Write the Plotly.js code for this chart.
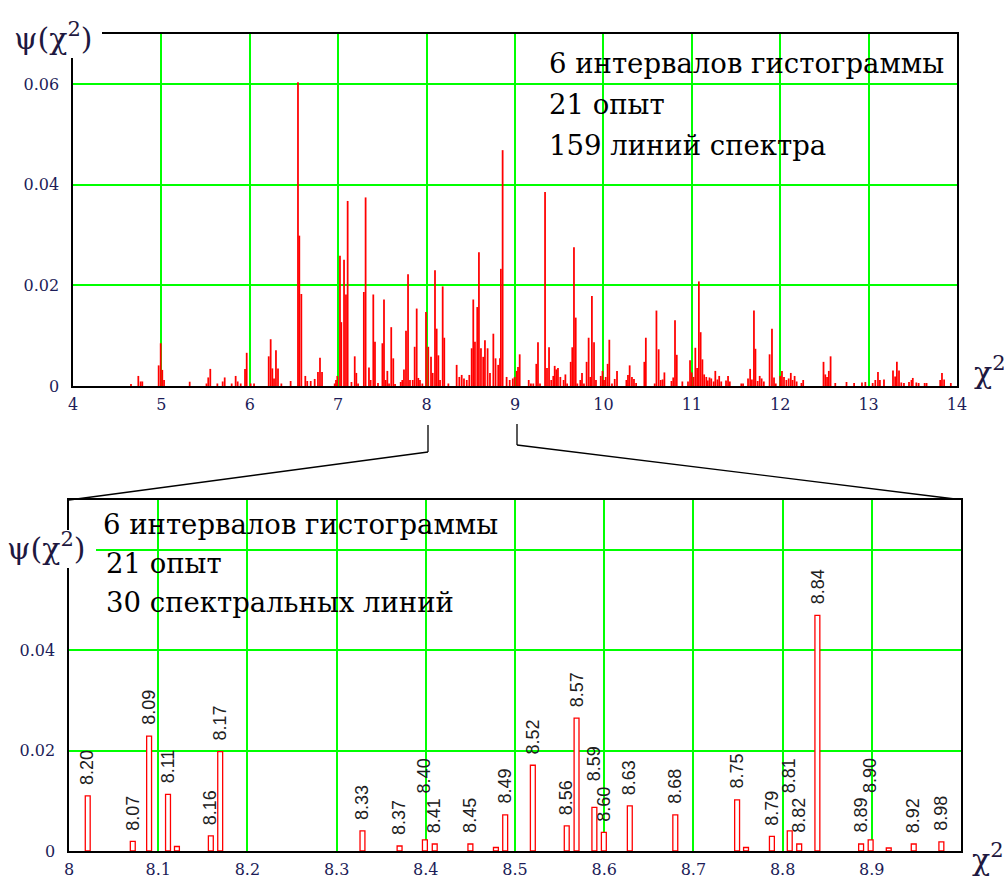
<!DOCTYPE html>
<html>
<head>
<meta charset="utf-8">
<script src="https://cdn.plot.ly/plotly-3.0.1.min.js"></script>
<style>
html,body{margin:0;padding:0;background:#fff;}
#chart{width:1004px;height:876px;}
</style>
</head>
<body>
<div id="chart"></div>
<script>
// ---------- DATA: full spectrum (upper chart) ----------
const topPos = [
4.656,4.739,4.765,4.784,4.969,4.992,5.01,5.03,5.32,5.51,5.53,5.553,5.633,5.693,5.716,5.795,5.84,5.863,5.897,5.946,5.965,
6.01,6.048,6.214,6.236,6.255,6.274,6.296,6.319,6.357,6.462,6.545,6.56,6.583,6.628,6.65,6.689,6.734,6.771,6.794,6.817,6.96,6.975,6.99,
7.02,7.035,7.066,7.088,7.107,7.15,7.187,7.205,7.225,7.29,7.31,7.348,7.367,7.397,7.416,7.45,7.5,7.518,7.537,7.556,7.575,7.6,7.623,7.643,
7.707,7.725,7.744,7.767,7.79,7.812,7.843,7.865,7.888,7.906,7.925,7.952,7.993,
8.019,8.05,8.069,8.095,8.114,8.133,8.152,8.182,8.2,8.246,8.34,8.37,8.397,8.423,8.454,8.483,8.51,8.528,8.547,8.573,8.592,8.615,8.64,8.66,
8.69,8.717,8.755,8.78,8.81,8.83,8.84,8.86,8.905,8.94,8.975,8.996,
9.019,9.034,9.053,9.155,9.18,9.207,9.241,9.26,9.283,9.34,9.362,9.385,9.41,9.433,9.449,9.467,9.486,9.513,9.55,9.57,9.59,9.63,9.648,9.667,
9.687,9.705,9.739,9.758,9.78,9.81,9.833,9.852,9.87,9.894,9.916,9.97,9.99,10.007,10.026,10.048,10.067,10.097,10.128,10.154,10.26,10.278,
10.297,10.323,10.346,10.37,10.463,10.48,10.58,10.6,10.625,10.648,
10.67,10.69,10.77,10.79,10.81,10.83,10.893,10.957,10.98,10.999,11.02,11.04,11.06,11.08,11.1,11.12,11.14,11.164,11.18,11.2,11.22,11.247,
11.266,11.29,11.31,11.333,11.387,11.41,11.43,11.56,11.58,11.636,11.66,11.68,11.703,11.72,11.745,11.768,11.79,11.815,11.88,11.907,11.93,
11.95,12.0,12.02,12.043,12.07,12.096,12.12,12.14,12.163,12.186,
12.24,12.26,12.49,12.51,12.53,12.55,12.57,12.623,12.75,12.836,12.925,12.963,13.046,13.076,13.106,13.128,13.174,13.276,13.3,13.32,13.344,
13.37,13.4,13.457,13.485,13.5,13.54,13.566,13.634,13.656,13.81,13.83,13.854,13.93
];
const topVal = [
0.0004,0.002,0.0009,0.0009,0.0041,0.0085,0.0032,0.0012,0.00085,0.0005,0.0017,0.0034,0.0005,0.0009,0.0017,0.0005,0.002,0.0009,0.0005,0.0034,0.0066,
0.0005,0.0005,0.0059,0.0093,0.0035,0.0015,0.0071,0.0035,0.0005,0.001,0.0604,0.0299,0.0183,0.002,0.001,0.001,0.0014,0.0028,0.0056,0.0028,0.0005,0.0012,0.002,
0.0259,0.0127,0.0251,0.0182,0.0368,0.0008,0.0059,0.0026,0.0005,0.0187,0.0375,0.0037,0.0012,0.0182,0.0088,0.0006,0.0085,0.0172,0.0012,0.003,0.0005,0.0117,0.0055,0.0004,
0.0008,0.0012,0.0033,0.011,0.0222,0.0012,0.0012,0.0078,0.0154,0.0016,0.0012,0.0005,0.0147,
0.0078,0.0058,0.0026,0.023,0.0114,0.0061,0.0012,0.0198,0.0096,0.0005,0.0042,0.0018,0.0022,0.0015,0.0012,0.0022,0.0075,0.0172,0.0088,0.0157,0.0266,0.0075,0.0058,0.0091,
0.0075,0.0026,0.0104,0.0055,0.0042,0.0055,0.0233,0.0469,0.0018,0.0012,0.0015,0.0018,
0.003,0.0038,0.0063,0.0012,0.0005,0.0005,0.0044,0.0087,0.0005,0.0386,0.0036,0.0077,0.0012,0.002,0.004,0.0033,0.0036,0.0018,0.0012,0.0023,0.0005,0.0048,0.0077,0.0276,
0.0136,0.0005,0.0012,0.0026,0.0005,0.0048,0.0096,0.0018,0.0179,0.0087,0.0012,0.002,0.003,0.0012,0.0018,0.0044,0.0092,0.0005,0.0014,0.003,0.0012,0.0022,
0.0041,0.0018,0.0014,0.0006,0.0048,0.0096,0.0005,0.015,0.0073,0.0012,
0.0013,0.0027,0.001,0.0017,0.0131,0.0062,0.0009,0.0009,0.0051,0.0027,0.0018,0.0076,0.0036,0.0208,0.0107,0.0053,0.0023,0.0018,0.0011,0.0017,0.0015,0.0009,
0.003,0.0013,0.002,0.0009,0.0011,0.002,0.0009,0.0005,0.0005,0.0015,0.0034,0.0013,0.015,0.0074,0.001,0.002,0.0015,0.0009,0.0063,0.0114,0.0017,
0.0005,0.002,0.003,0.0018,0.0012,0.0015,0.0026,0.0012,0.002,0.0009,
0.0006,0.0012,0.0048,0.0023,0.0018,0.003,0.0059,0.0006,0.0008,0.0006,0.0007,0.0008,0.0006,0.0012,0.0028,0.0012,0.0013,0.0031,0.0019,0.0048,0.0031,
0.0007,0.0006,0.0008,0.0012,0.0016,0.0007,0.0006,0.0006,0.0006,0.0012,0.0026,0.0013,0.0006
];

// ---------- DATA: zoomed part 8..9 (lower chart) ----------
const botPos = [8.021,8.0715,8.0898,8.111,8.121,8.159,8.1695,8.329,8.3706,8.399,8.41,8.45,8.4786,8.489,8.52,8.558,8.569,8.589,8.5996,8.6287,
                8.6797,8.749,8.759,8.788,8.808,8.8186,8.839,8.888,8.8987,8.919,8.947,8.978];
const botVal = [0.011,0.0019,0.0229,0.0113,0.0009,0.003,0.0198,0.004,0.001,0.0022,0.0014,0.0014,0.0007,0.0072,0.0171,0.005,0.0265,0.0087,0.0037,0.009,
                0.0072,0.0102,0.0007,0.0029,0.004,0.0014,0.047,0.0014,0.0022,0.0006,0.0014,0.0018];
const botLbl = ['8.20','8.07','8.09','8.11','','8.16','8.17','8.33','8.37','8.40','8.41','8.45','','8.49','8.52','8.56','8.57','8.59','8.60','8.63',
                '8.68','8.75','','8.79','8.81','8.82','8.84','8.89','8.90','','8.92','8.98'];

// tick labels
const topXTicks = [4,5,6,7,8,9,10,11,12,13,14];
const yTicks = [0,0.02,0.04,0.06];
const topYText = ['0','0.02','0.04','0.06'];
const botXTicks = [8,8.1,8.2,8.3,8.4,8.5,8.6,8.7,8.8,8.9];
const botXText = ['8','8.1','8.2','8.3','8.4','8.5','8.6','8.7','8.8','8.9'];
const botYText = ['0','0.02','0.04',''];

const topText = ['6 интервалов гистограммы','21 опыт','159 линий спектра'];
const botText = ['6 интервалов гистограммы','21 опыт','30 спектральных линий'];

// ---------- LAYOUT ----------
const W = 1004, H = 876;
const px = v => v / W;
const py = v => 1 - v / H;

const serif = '"DejaVu Serif", serif';
const tickFont = {family:serif, size:16, color:'#1c1c58'};
const gridC = '#00ff00';

function axisBase(extra){
  return Object.assign({
    showline:true, linecolor:'#000', linewidth:1.6, mirror:true,
    showgrid:true, gridcolor:gridC, gridwidth:2,
    zeroline:false, ticks:'', tickfont:tickFont, fixedrange:true
  }, extra);
}

const traces = [
  {type:'bar', x:topPos, y:topVal, width:0.02, xaxis:'x', yaxis:'y',
   marker:{color:'#ff0000', line:{width:0}}, hoverinfo:'skip'},
  {type:'bar', x:botPos, y:botVal, width:0.0055, xaxis:'x2', yaxis:'y2',
   marker:{color:'#ffffff', line:{color:'#ff0000', width:1.3}}, hoverinfo:'skip'}
];

const annotations = [];
const txtSize = 27.5;
topText.forEach((t,i)=>annotations.push({xref:'paper',yref:'paper',x:px(547),y:py(63+41*i),xanchor:'left',yanchor:'middle',
  text:t,showarrow:false,font:{family:serif,size:txtSize,color:'#000'}}));
botText.forEach((t,i)=>annotations.push({xref:'paper',yref:'paper',x:px(i===0?101:104),y:py(524+39*i),xanchor:'left',yanchor:'middle',
  text:t,showarrow:false,font:{family:serif,size:txtSize,color:'#000'}}));

const labFont = {family:serif,size:30,color:'#1e1840'};
annotations.push({xref:'paper',yref:'paper',x:px(12),y:py(37),xanchor:'left',yanchor:'middle',text:'ψ(χ<sup>2</sup>)',showarrow:false,font:labFont});
annotations.push({xref:'paper',yref:'paper',x:px(5),y:py(546),xanchor:'left',yanchor:'middle',text:'ψ(χ<sup>2</sup>)',showarrow:false,font:labFont});
annotations.push({xref:'paper',yref:'paper',x:px(972),y:py(370),xanchor:'left',yanchor:'middle',text:'χ<sup>2</sup>',showarrow:false,font:labFont});
annotations.push({xref:'paper',yref:'paper',x:px(970),y:py(857),xanchor:'left',yanchor:'middle',text:'χ<sup>2</sup>',showarrow:false,font:labFont});

// rotated value labels above the lower bars, stacked when neighbours collide
const pxPerUnit = (851-500)/0.07;
const gap = 9, labLen = 38;
const labelled = botLbl.map((l,i)=>i).filter(i=>botLbl[i]!=='');
const shift = {};
labelled.forEach(i=>shift[i]=gap);
for(let k=1;k<labelled.length;k++){
  const a = labelled[k-1], b = labelled[k];
  if(botPos[b]-botPos[a] < 0.013){
    const up = botVal[b] >= botVal[a] ? b : a;
    const low = up===b ? a : b;
    const need = gap + labLen + 2 - (botVal[up]-botVal[low])*pxPerUnit;
    shift[up] = Math.max(gap, need);
  }
}
labelled.forEach(i=>annotations.push({xref:'x2',yref:'y2',x:botPos[i],y:botVal[i],xanchor:'center',yanchor:'bottom',
  yshift:shift[i],textangle:-90,text:botLbl[i],showarrow:false,
  font:{family:'"Liberation Sans", Arial, sans-serif',size:18,color:'#202020'}}));

const shapes = [
  // white patches under the axis labels
  {type:'rect',xref:'paper',yref:'paper',x0:px(0),x1:px(102),y0:py(58),y1:py(10),fillcolor:'#fff',line:{width:0},layer:'above'},
  {type:'rect',xref:'paper',yref:'paper',x0:px(0),x1:px(96),y0:py(568),y1:py(530),fillcolor:'#fff',line:{width:0},layer:'above'},
  // zoom connector
  {type:'line',xref:'paper',yref:'paper',x0:px(428),y0:py(425),x1:px(428),y1:py(452),line:{color:'#000',width:1.3}},
  {type:'line',xref:'paper',yref:'paper',x0:px(428),y0:py(452),x1:px(69),y1:py(500),line:{color:'#000',width:1.3}},
  {type:'line',xref:'paper',yref:'paper',x0:px(517),y0:py(424),x1:px(517),y1:py(445),line:{color:'#000',width:1.3}},
  {type:'line',xref:'paper',yref:'paper',x0:px(517),y0:py(445),x1:px(955),y1:py(499),line:{color:'#000',width:1.3}}
];

const layout = {
  width:W, height:H, margin:{l:0,r:0,t:0,b:0}, paper_bgcolor:'#fff', plot_bgcolor:'#fff',
  font:{family:serif},
  showlegend:false, barmode:'overlay',
  xaxis: axisBase({domain:[px(73),px(957)], range:[4,14], tickvals:topXTicks, ticklabelstandoff:3, anchor:'y'}),
  yaxis: axisBase({domain:[py(386),py(34)], range:[0,0.07], tickvals:yTicks, ticktext:topYText, ticklabelstandoff:9, anchor:'x'}),
  xaxis2: axisBase({domain:[px(69),px(961)], range:[8,9], tickvals:botXTicks, ticktext:botXText, ticklabelstandoff:3, anchor:'y2'}),
  yaxis2: axisBase({domain:[py(851),py(500)], range:[0,0.07], tickvals:yTicks, ticktext:botYText, ticklabelstandoff:9, anchor:'x2'}),
  annotations, shapes
};

Plotly.newPlot('chart', traces, layout, {staticPlot:true, displayModeBar:false});
</script>
</body>
</html>
